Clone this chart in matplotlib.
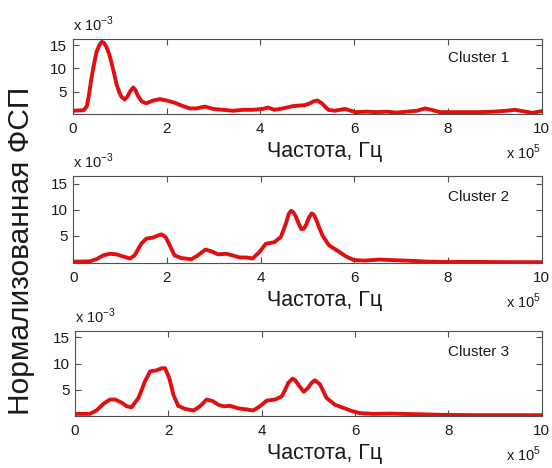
import matplotlib
matplotlib.use("Agg")
import matplotlib.pyplot as plt

plt.rcParams["font.family"] = ["Liberation Sans", "DejaVu Sans"]
plt.rcParams["mathtext.fontset"] = "custom"
plt.rcParams["mathtext.rm"] = "Liberation Sans"

# frequency in units of 1e5 Hz, normalized PSD in units of 1e-3
f1 = [0, 0.23, 0.3, 0.35, 0.4, 0.46, 0.51, 0.57, 0.62, 0.67, 0.72, 0.78, 0.83,
      0.89, 0.94, 1.0, 1.04, 1.11, 1.17, 1.22, 1.29, 1.34, 1.38, 1.47, 1.57,
      1.72, 1.86, 2.0, 2.18, 2.35, 2.5, 2.64, 2.82, 2.99,
      3.2, 3.42, 3.63, 3.84, 4.06, 4.16, 4.3, 4.48, 4.7, 4.95, 5.06, 5.13, 5.22,
      5.31, 5.45, 5.59, 5.81, 6.02, 6.27, 6.48, 6.7, 6.91, 7.12, 7.34, 7.51,
      7.65, 7.83, 8.11, 8.4, 8.68, 8.97, 9.25, 9.43, 9.6, 9.8, 10]
p1 = [0.9, 1.0, 1.8, 4.5, 7.9, 11.2, 13.6, 15.0, 15.7, 15.4, 14.6, 13.0, 11.1,
      8.6, 6.4, 4.7, 3.9, 3.3, 4.0, 5.0, 5.9, 5.3, 4.3, 2.9, 2.5,
      3.1, 3.4, 3.1, 2.6, 1.9, 1.4, 1.4, 1.8, 1.3,
      1.1, 0.9, 1.1, 1.1, 1.3, 1.6, 1.1, 1.4, 1.9, 2.1, 2.5, 2.9, 3.1,
      2.5, 1.1, 0.9, 1.3, 0.6, 0.7, 0.6, 0.7, 0.5, 0.7, 0.9, 1.4,
      1.1, 0.6, 0.6, 0.6, 0.6, 0.7, 0.9, 1.1, 0.8, 0.45, 0.8]

f2 = [0, 0.35, 0.5, 0.64, 0.78, 0.92, 1.06, 1.21, 1.31, 1.45, 1.56, 1.7, 1.81,
      1.88, 1.97, 2.06, 2.16, 2.3, 2.52, 2.66, 2.82, 2.94, 3.09, 3.26, 3.4,
      3.55, 3.69, 3.83, 3.97, 4.11, 4.29, 4.43, 4.54, 4.6, 4.65, 4.7, 4.75,
      4.81, 4.87, 4.92, 4.97, 5.03, 5.09, 5.14, 5.19, 5.25, 5.32, 5.46, 5.64,
      5.82, 5.99, 6.23, 6.52, 6.8, 7.23, 7.58, 7.94, 8.65, 9.36, 10]
p2 = [0.1, 0.15, 0.6, 1.3, 1.6, 1.5, 1.1, 0.7, 1.3, 3.5, 4.5, 4.7, 5.1,
      5.3, 4.8, 3.2, 1.3, 0.8, 0.55, 1.3, 2.4, 2.1, 1.5, 1.6, 1.3,
      0.9, 0.9, 0.7, 1.9, 3.5, 3.8, 4.8, 7.4, 9.2, 9.8, 9.5, 8.7,
      7.4, 6.3, 6.4, 7.1, 8.5, 9.3, 9.0, 8.0, 6.6, 5.1, 3.2, 2.2,
      1.1, 0.4, 0.3, 0.5, 0.4, 0.25, 0.1, 0.05, 0.05, 0.0, 0.0]

f3 = [0, 0.32, 0.46, 0.61, 0.75, 0.86, 1.0, 1.11, 1.21, 1.36, 1.5, 1.61, 1.75,
      1.86, 1.93, 2.02, 2.11, 2.21, 2.36, 2.54, 2.68, 2.82, 2.95, 3.09, 3.21,
      3.32, 3.5, 3.68, 3.82, 3.96, 4.11, 4.29, 4.43, 4.5, 4.57, 4.66, 4.72, 4.78,
      4.9, 4.99, 5.07, 5.14, 5.25, 5.39, 5.57, 5.75, 5.93, 6.1, 6.39, 6.75,
      7.25, 7.96, 8.67, 9.53, 10]
p3 = [0.35, 0.35, 1.0, 2.3, 3.1, 3.1, 2.5, 1.8, 1.6, 3.4, 6.6, 8.5, 8.7,
      9.1, 9.1, 7.2, 4.0, 1.9, 1.3, 1.0, 1.8, 3.1, 2.8, 2.0, 1.8,
      1.9, 1.4, 1.2, 1.0, 1.8, 2.9, 3.1, 3.7, 4.9, 6.3, 7.1, 6.8, 6.0,
      4.6, 5.3, 6.3, 6.8, 6.0, 3.4, 2.1, 1.5, 0.9, 0.5, 0.35, 0.4,
      0.3, 0.15, 0.1, 0.1, 0.1]

freqs = [f1, f2, f3]
psds = [p1, p2, p3]
names = ["Cluster 1", "Cluster 2", "Cluster 3"]
ylims = [(0.2, 16.3), (-0.1, 16.5), (0.0, 16.3)]
xticks = [0, 2, 4, 6, 8, 10]
yticks = [5, 10, 15]

W, H = 552, 468
# axes boxes in pixels: left, top, right, bottom
boxes = [(72.7, 39, 541.7, 114), (73.3, 175.7, 541.7, 262.7), (75, 330.7, 541.7, 415.7)]

fig = plt.figure(figsize=(W / 100, H / 100), dpi=100)
spine_c = "#505050"
txt_c = "#1a1a1a"

for (l, t, r, b), f, p, name, yl in zip(boxes, freqs, psds, names, ylims):
    ax = fig.add_axes([l / W, 1 - b / H, (r - l) / W, (b - t) / H])
    ax.plot(f, p, color="#e01010", lw=2.8, solid_joinstyle="round", solid_capstyle="round")
    ax.set_xlim(0, 10)
    ax.set_ylim(*yl)
    ax.set_xticks(xticks)
    ax.set_yticks(yticks)
    ax.tick_params(direction="in", length=4, width=0.8, color=spine_c,
                   top=True, right=True, labelsize=11, labelcolor=txt_c)
    ax.tick_params(axis="x", pad=6)
    ax.tick_params(axis="y", pad=4)
    for s in ax.spines.values():
        s.set_color(spine_c)
        s.set_linewidth(0.8)
    ax.text(0.80, 0.75, name, transform=ax.transAxes, fontsize=11,
            va="center", ha="left", color=txt_c)
    # multiplier labels and x label
    fig.text(l / W, 1 - (t - 8) / H, r"x 10$^{-3}$", fontsize=10.5,
             ha="left", va="baseline", color=txt_c)
    fig.text(506 / W, 1 - (b + 45) / H, r"x 10$^{5}$", fontsize=10.5,
             ha="left", va="baseline", color=txt_c)
    fig.text(325 / W, 1 - (b + 38) / H, "Частота, Гц", fontsize=15.5,
             ha="center", va="center", color=txt_c)

fig.text(21 / W, 1 - 251 / H, "Нормализованная ФСП", rotation=90,
         fontsize=21.5, ha="center", va="center", color=txt_c)

fig.savefig("out.png", dpi=100)
